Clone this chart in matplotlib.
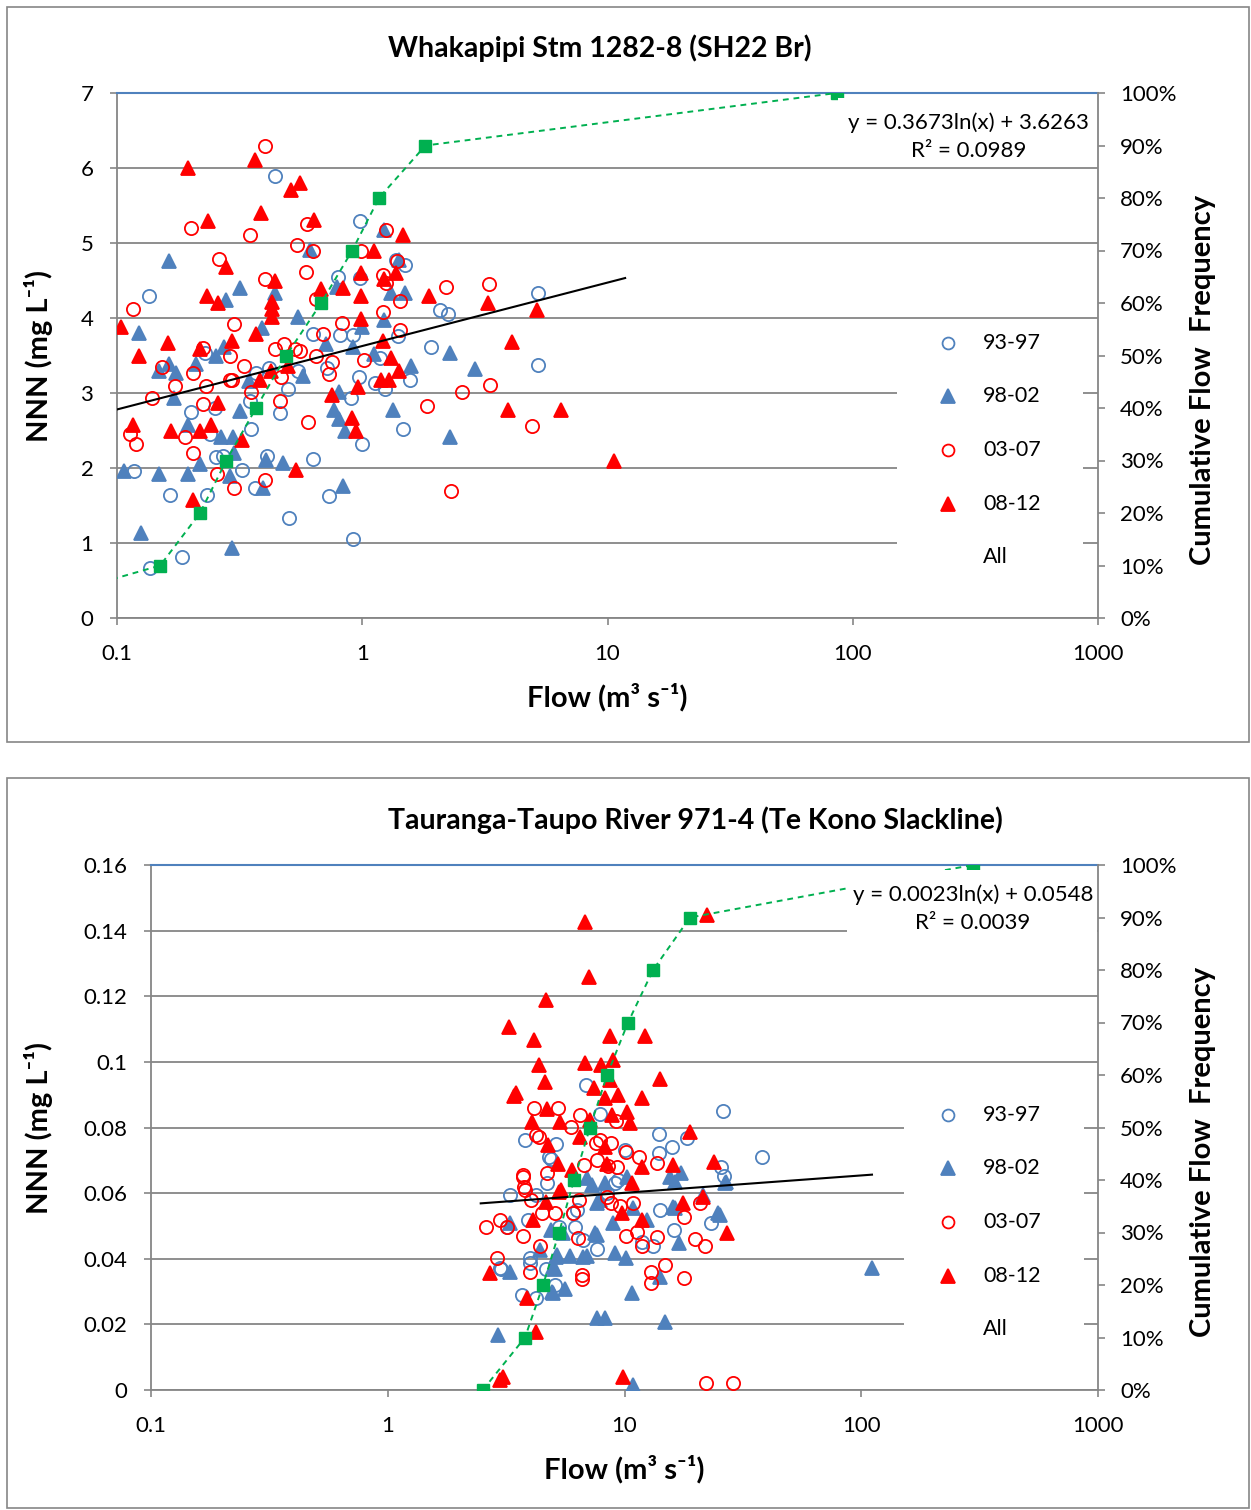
import matplotlib
matplotlib.use('Agg')
import matplotlib.pyplot as plt
from matplotlib.patches import Rectangle
from matplotlib.ticker import NullLocator
import numpy as np

plt.rcParams['font.family'] = ['Lato', 'DejaVu Sans']

BLUE = '#4F81BD'
RED = '#FF0000'
GREEN = '#00B050'
GREY = '#868686'

# ---------------- Whakapipi Stm (flow m3/s, NNN mg/L) ----------------
w_9397 = [(0.44, 5.89), (0.98, 5.30), (0.80, 4.55), (0.975, 4.54), (1.49, 4.71), (1.37, 4.78),
          (0.135, 4.30), (2.07, 4.11), (2.24, 4.06), (5.2, 4.34), (1.91, 3.62), (0.63, 3.79),
          (0.81, 3.77), (0.92, 3.77), (1.40, 3.76), (0.228, 3.53), (0.415, 3.34), (0.546, 3.29),
          (0.72, 3.34), (1.18, 3.47), (0.97, 3.22), (1.13, 3.14), (1.24, 3.05), (1.56, 3.18),
          (5.2, 3.38), (0.369, 3.27), (0.50, 3.06), (0.347, 2.90), (0.20, 2.75), (0.25, 2.80),
          (0.464, 2.73), (0.90, 2.94), (0.24, 2.46), (0.352, 2.52), (1.0, 2.32), (1.47, 2.52),
          (0.117, 1.96), (0.254, 2.15), (0.27, 2.16), (0.324, 1.97), (0.41, 2.16), (0.366, 1.73),
          (0.632, 2.12), (0.164, 1.64), (0.232, 1.64), (0.73, 1.63), (0.505, 1.34), (0.92, 1.06),
          (0.184, 0.82), (0.136, 0.67)]
w_9802 = [(0.163, 4.76), (0.316, 4.40), (0.277, 4.24), (0.44, 4.33), (0.615, 4.91), (1.23, 5.18),
          (1.41, 4.78), (1.31, 4.33), (1.50, 4.33), (0.79, 4.42), (0.546, 4.02), (0.39, 3.87),
          (0.123, 3.80), (1.23, 3.98), (2.29, 3.53), (0.713, 3.65), (0.916, 3.61), (1.0, 3.88),
          (0.273, 3.61), (0.253, 3.50), (0.163, 3.39), (0.149, 3.29), (0.174, 3.27), (0.21, 3.39),
          (0.17, 2.94), (0.344, 3.16), (0.573, 3.23), (0.807, 3.01), (1.12, 3.52), (1.58, 3.36),
          (2.88, 3.32), (0.316, 2.76), (0.194, 2.57), (0.266, 2.41), (0.296, 2.41), (0.217, 2.05),
          (0.194, 1.92), (0.149, 1.92), (0.107, 1.96), (0.289, 1.89), (0.30, 2.20), (0.404, 2.11),
          (0.474, 2.07), (0.395, 1.73), (0.77, 2.78), (0.807, 2.65), (0.85, 2.49), (1.33, 2.78),
          (2.29, 2.42), (0.834, 1.76), (0.125, 1.14), (0.294, 0.93)]
w_0307 = [(0.40, 6.30), (0.20, 5.20), (0.347, 5.11), (0.594, 5.26), (0.54, 4.98), (0.632, 4.90),
          (0.26, 4.79), (0.59, 4.61), (0.40, 4.52), (1.25, 5.18), (0.99, 4.90), (1.38, 4.76),
          (1.22, 4.58), (1.25, 4.47), (1.42, 4.23), (2.2, 4.41), (3.29, 4.45), (0.116, 4.12),
          (0.645, 4.26), (0.83, 3.94), (0.30, 3.92), (1.21, 4.08), (1.43, 3.84), (0.69, 3.79),
          (0.48, 3.65), (0.53, 3.59), (0.56, 3.56), (0.439, 3.59), (0.153, 3.35), (0.224, 3.60),
          (0.289, 3.50), (0.205, 3.27), (0.173, 3.09), (0.23, 3.09), (0.328, 3.36), (0.468, 3.22),
          (0.29, 3.18), (0.295, 3.17), (0.352, 3.02), (0.46, 2.90), (0.224, 2.85), (0.139, 2.94),
          (0.113, 2.46), (0.119, 2.32), (0.19, 2.41), (0.204, 2.20), (0.255, 1.92), (0.30, 1.73),
          (0.40, 1.84), (0.60, 2.61), (0.645, 3.50), (0.755, 3.42), (0.73, 3.26), (1.02, 3.44),
          (1.84, 2.83), (2.54, 3.01), (3.33, 3.11), (4.94, 2.56), (2.31, 1.69)]
w_0812 = [(0.194, 6.00), (0.364, 6.11), (0.555, 5.80), (0.51, 5.71), (0.385, 5.40), (0.236, 5.29),
          (0.638, 5.31), (1.47, 5.11), (1.12, 4.89), (0.279, 4.68), (0.44, 4.50), (0.99, 4.60),
          (1.23, 4.52), (1.37, 4.60), (0.233, 4.30), (0.258, 4.20), (0.43, 4.21), (0.43, 4.12),
          (0.43, 4.01), (0.68, 4.39), (0.834, 4.40), (0.99, 4.29), (1.87, 4.30), (3.26, 4.20),
          (5.16, 4.11), (0.104, 3.88), (0.123, 3.50), (0.162, 3.67), (0.217, 3.59), (0.294, 3.69),
          (0.37, 3.79), (0.99, 3.99), (1.22, 3.70), (1.31, 3.47), (1.41, 3.30), (1.19, 3.18),
          (1.29, 3.18), (0.96, 3.08), (0.755, 2.98), (0.91, 2.67), (0.94, 2.49), (4.07, 3.68),
          (3.94, 2.78), (6.47, 2.78), (10.6, 2.09), (0.116, 2.58), (0.166, 2.49), (0.217, 2.49),
          (0.242, 2.58), (0.324, 2.38), (0.384, 3.18), (0.425, 3.30), (0.50, 3.36), (0.258, 2.87),
          (0.535, 1.97), (0.204, 1.57)]
w_cum_flow = [0.027, 0.15, 0.218, 0.279, 0.369, 0.49, 0.68, 0.91, 1.17, 1.81, 86]
w_cum_freq = [0.0, 0.1, 0.2, 0.3, 0.4, 0.5, 0.6, 0.7, 0.8, 0.9, 1.0]
w_fit = (0.3673, 3.6263, 0.0989)   # slope, intercept, R2
w_fit_range = (0.1, 11.8)
w_yticks = [0, 1, 2, 3, 4, 5, 6, 7]
w_yticklabels = ['0', '1', '2', '3', '4', '5', '6', '7']

# ---------------- Tauranga-Taupo River ----------------
t_9397 = [(6.87, 0.093), (26, 0.085), (7.88, 0.084), (14.0, 0.078), (15.8, 0.074), (18.3, 0.0767),
          (10.0, 0.0732), (14.0, 0.0723), (38, 0.0709), (5.14, 0.075), (3.8, 0.0762), (4.8, 0.0711),
          (4.9, 0.0705), (25.5, 0.068), (26.4, 0.0652), (3.28, 0.0594), (4.23, 0.0594), (4.7, 0.063),
          (3.92, 0.0518), (3.2, 0.0498), (6.04, 0.0538), (6.18, 0.0498), (6.7, 0.0457), (7.65, 0.043),
          (4.0, 0.0401), (4.0, 0.0386), (3.01, 0.0368), (4.66, 0.0368), (5.08, 0.032), (3.68, 0.029),
          (5.3, 0.0498), (8.4, 0.060), (9.1, 0.063), (14.1, 0.0549), (16.2, 0.0488), (23.3, 0.051),
          (11.8, 0.0452), (13.2, 0.0439), (4.23, 0.028), (9.4, 0.064), (6.28, 0.0549), (2.98, 0.0371)]
t_9802 = [(6.92, 0.0645), (8.28, 0.063), (10.2, 0.065), (15.6, 0.065), (17.3, 0.0662), (26.5, 0.063),
          (7.65, 0.0569), (8.92, 0.0508), (12.4, 0.0518), (16.3, 0.0554), (24.9, 0.0538), (17.0, 0.0447),
          (7.65, 0.0472), (9.1, 0.0417), (10.1, 0.0401), (5.89, 0.0408), (6.92, 0.0408), (5.14, 0.0406),
          (4.9, 0.0488), (5.52, 0.0478), (3.28, 0.0361), (5.0, 0.0376), (5.0, 0.0297), (5.61, 0.0307),
          (10.8, 0.0297), (14.1, 0.0345), (7.65, 0.0219), (8.28, 0.0219), (14.8, 0.0208), (2.91, 0.0168),
          (10.9, 0.0015), (111, 0.0372), (3.28, 0.0508), (4.41, 0.0427), (5.2, 0.0412), (5.08, 0.0368),
          (4.95, 0.030), (7.5, 0.0478), (7.88, 0.0579), (7.3, 0.0625), (10.9, 0.0554), (16.1, 0.0559),
          (25.2, 0.0533), (21.5, 0.0594), (26.8, 0.0635), (16.4, 0.0635), (6.7, 0.0406)]
t_0307 = [(4.16, 0.0859), (5.22, 0.0859), (6.49, 0.0838), (5.92, 0.0801), (9.2, 0.0821), (4.23, 0.0777),
          (4.35, 0.0770), (7.59, 0.0752), (7.88, 0.0762), (8.8, 0.0752), (11.5, 0.0711), (13.7, 0.0691),
          (7.65, 0.0701), (6.75, 0.0686), (9.3, 0.0681), (3.72, 0.0655), (4.7, 0.0662), (3.74, 0.065),
          (3.76, 0.0619), (3.80, 0.061), (4.02, 0.0579), (2.6, 0.0498), (2.98, 0.0518), (3.2, 0.0498),
          (3.72, 0.0469), (4.4, 0.0439), (5.08, 0.054), (6.04, 0.0538), (6.4, 0.0579), (6.38, 0.0462),
          (8.42, 0.0589), (8.8, 0.0569), (9.6, 0.0561), (10.9, 0.0569), (17.8, 0.0528), (20.8, 0.0569),
          (19.9, 0.0459), (21.8, 0.0439), (10.1, 0.0469), (11.3, 0.0482), (11.8, 0.0439), (13.7, 0.0467),
          (2.9, 0.0401), (3.97, 0.0361), (6.6, 0.0351), (6.6, 0.0337), (13.0, 0.0361), (14.8, 0.0381),
          (12.9, 0.0327), (17.8, 0.034), (22.1, 0.002), (28.6, 0.002), (4.5, 0.0538), (8.5, 0.0683),
          (10.1, 0.0726)]
t_0812 = [(6.81, 0.1427), (22.4, 0.1448), (7.08, 0.126), (4.66, 0.1189), (3.24, 0.1107), (4.16, 0.1067),
          (8.69, 0.1079), (12.2, 0.1079), (4.35, 0.099), (6.81, 0.0998), (7.94, 0.099), (8.92, 0.1006),
          (4.61, 0.094), (8.69, 0.0945), (14.1, 0.0948), (3.48, 0.0904), (3.42, 0.0896), (7.45, 0.092),
          (8.28, 0.089), (9.43, 0.0899), (11.8, 0.0889), (4.7, 0.0857), (4.05, 0.0818), (5.35, 0.0818),
          (7.14, 0.0823), (8.83, 0.0838), (10.2, 0.0848), (10.5, 0.0815), (18.9, 0.0787), (6.49, 0.0772),
          (4.76, 0.0747), (8.28, 0.0742), (5.25, 0.0689), (5.98, 0.0671), (8.4, 0.0689), (11.9, 0.0681),
          (16.0, 0.0686), (23.9, 0.0696), (5.28, 0.0604), (4.66, 0.0574), (5.37, 0.061), (4.11, 0.0518),
          (9.73, 0.0538), (10.8, 0.063), (11.8, 0.0518), (17.6, 0.0569), (21.4, 0.0589), (27, 0.0478),
          (2.7, 0.0356), (3.86, 0.028), (4.23, 0.0178), (2.98, 0.003), (3.07, 0.0039), (9.82, 0.0039)]
t_cum_flow = [2.52, 3.80, 4.53, 5.29, 6.12, 7.15, 8.44, 10.35, 13.2, 18.9, 296]
t_cum_freq = [0.0, 0.1, 0.2, 0.3, 0.4, 0.5, 0.6, 0.7, 0.8, 0.9, 1.0]
t_fit = (0.0023, 0.0548, 0.0039)
t_fit_range = (2.47, 111)
t_yticks = [0, 0.02, 0.04, 0.06, 0.08, 0.10, 0.12, 0.14, 0.16]
t_yticklabels = ['0', '0.02', '0.04', '0.06', '0.08', '0.1', '0.12', '0.14', '0.16']

flow_ticks = [0.1, 1, 10, 100, 1000]
flow_ticklabels = ['0.1', '1', '10', '100', '1000']
pct_ticks = [i / 10 for i in range(11)]
pct_ticklabels = [f'{i * 10}%' for i in range(11)]
legend_labels = ['93-97', '98-02', '03-07', '08-12', 'All']

W, H = 1251, 1510
fig = plt.figure(figsize=(W / 100, H / 100), dpi=100)

# style of each period: (marker, face, edge, size)
styles = [('o', 'none', BLUE, 9.5), ('^', BLUE, BLUE, 10.5),
          ('o', 'none', RED, 9.5), ('^', RED, RED, 10.5)]

TICK_FS = 16
LABEL_FS = 21


def px_rect(l, t, r, b):
    return [l / W, 1 - b / H, (r - l) / W, (b - t) / H]


def panel(rect, title, title_xy, series, cum_flow, cum_freq, fit, fit_range,
          yticks, yticklabels, frame):
    # outer chart frame
    fig.add_artist(Rectangle((frame[0] / W, 1 - frame[3] / H), (frame[2] - frame[0]) / W,
                             (frame[3] - frame[1]) / H, transform=fig.transFigure,
                             fill=False, edgecolor=GREY, lw=1.2))
    fig.text(title_xy[0] / W, 1 - title_xy[1] / H, title, ha='center', va='center',
             fontsize=20.5, fontweight='bold')

    ax = fig.add_axes(rect)
    ax.set_xscale('log')
    ax.set_xlim(0.1, 1000)
    ax.set_ylim(yticks[0], yticks[-1])
    ax.set_xticks(flow_ticks)
    ax.set_xticklabels(flow_ticklabels)
    ax.xaxis.set_minor_locator(NullLocator())
    ax.set_yticks(yticks)
    ax.set_yticklabels(yticklabels)
    ax.grid(axis='y', color=GREY, lw=1.3, zorder=0)
    ax.set_axisbelow(True)
    for s in ['left', 'bottom']:
        ax.spines[s].set_color(GREY)
        ax.spines[s].set_linewidth(1.3)
    ax.spines['right'].set_visible(False)
    ax.spines['top'].set_color(BLUE)
    ax.spines['top'].set_linewidth(1.5)
    ax.tick_params(axis='y', direction='out', length=5, width=1.2, color=GREY,
                   labelsize=TICK_FS, pad=12)
    ax.tick_params(axis='x', direction='out', length=5, width=1.2, color=GREY,
                   labelsize=TICK_FS, pad=14)

    handles = []
    for data, (mk, fc, ec, ms), lab in zip(series, styles, legend_labels):
        x = [p[0] for p in data]
        y = [p[1] for p in data]
        h, = ax.plot(x, y, linestyle='none', marker=mk, markerfacecolor=fc,
                     markeredgecolor=ec, markersize=ms, markeredgewidth=1.3,
                     label=lab, zorder=3)
        handles.append(h)

    # logarithmic trend line
    fx = np.geomspace(fit_range[0], fit_range[1], 200)
    ax.plot(fx, fit[0] * np.log(fx) + fit[1], color='black', lw=1.5, zorder=4)

    ax.set_xlabel('Flow (m³ s⁻¹)', fontsize=LABEL_FS, fontweight='bold', va='center')
    ax.xaxis.set_label_coords(0.5, -0.15)
    ax.set_ylabel('NNN (mg L⁻¹)', fontsize=LABEL_FS, fontweight='bold', va='center')

    # secondary axis: cumulative flow frequency
    ax2 = ax.twinx()
    ax2.set_ylim(0, 1)
    ax2.set_yticks(pct_ticks)
    ax2.set_yticklabels(pct_ticklabels)
    for s in ['left', 'bottom', 'top']:
        ax2.spines[s].set_visible(False)
    ax2.spines['right'].set_color(GREY)
    ax2.spines['right'].set_linewidth(1.3)
    ax2.tick_params(axis='y', direction='out', length=5, width=1.2, color=GREY,
                    labelsize=TICK_FS, pad=11)
    ax2.plot(cum_flow, cum_freq, color=GREEN, ls=(0, (3, 2.5)), lw=1.4,
             marker='s', markersize=9, markerfacecolor=GREEN, markeredgecolor=GREEN,
             zorder=3, clip_on=True)
    ax2.set_ylabel('Cumulative Flow  Frequency', fontsize=LABEL_FS, fontweight='bold',
                   va='center', rotation=90)

    # trend equation box
    ax2.add_patch(Rectangle((0.735, 0.862), 0.264, 0.128, transform=ax2.transAxes,
                            facecolor='white', edgecolor='none', zorder=5))
    ax2.text(0.868, 0.916, f'y = {fit[0]:.4f}ln(x) + {fit[1]:.4f}\nR² = {fit[2]:.4f}',
             transform=ax2.transAxes, ha='center', va='center', fontsize=16,
             linespacing=1.5, zorder=6)

    # legend (white box over gridlines)
    ax2.add_patch(Rectangle((0.795, 0.06), 0.19, 0.5, transform=ax2.transAxes,
                            facecolor='white', edgecolor='none', zorder=5))
    leg_y = [0.524, 0.423, 0.32, 0.217, 0.116]
    return ax, ax2, handles, leg_y


def add_legend(ax2, handles, leg_y, mx, tx):
    for h, yy in zip(handles, leg_y):
        ax2.plot([mx], [yy], transform=ax2.transAxes, linestyle='none',
                 marker=h.get_marker(), markerfacecolor=h.get_markerfacecolor(),
                 markeredgecolor=h.get_markeredgecolor(), markersize=h.get_markersize() * 0.9,
                 markeredgewidth=1.3, zorder=6, clip_on=False)
    for yy, lab in zip(leg_y, legend_labels):
        ax2.text(tx, yy, lab, transform=ax2.transAxes, ha='left', va='center',
                 fontsize=15.5, zorder=6)


ax, ax2, hs, ly = panel(px_rect(117, 93, 1098, 618), 'Whakapipi Stm 1282-8 (SH22 Br)', (600, 48),
                        [w_9397, w_9802, w_0307, w_0812], w_cum_flow, w_cum_freq, w_fit,
                        w_fit_range, w_yticks, w_yticklabels, (7, 7, 1249, 742))
ax.yaxis.set_label_coords((39 - 117) / 981, 0.5)
ax2.yaxis.set_label_coords((1203 - 117) / 981, 0.453)
add_legend(ax2, hs, ly, (948 - 117) / 981, (983 - 117) / 981)

bx, bx2, hs, ly = panel(px_rect(151, 865, 1098, 1390),
                        'Tauranga-Taupo River 971-4 (Te Kono Slackline)', (695, 820),
                        [t_9397, t_9802, t_0307, t_0812], t_cum_flow, t_cum_freq, t_fit,
                        t_fit_range, t_yticks, t_yticklabels, (7, 778, 1249, 1508))
bx.yaxis.set_label_coords((39 - 151) / 947, 0.5)
bx2.yaxis.set_label_coords((1203 - 151) / 947, 0.453)
add_legend(bx2, hs, ly, (948 - 151) / 947, (983 - 151) / 947)

fig.savefig('out.png', dpi=100)
